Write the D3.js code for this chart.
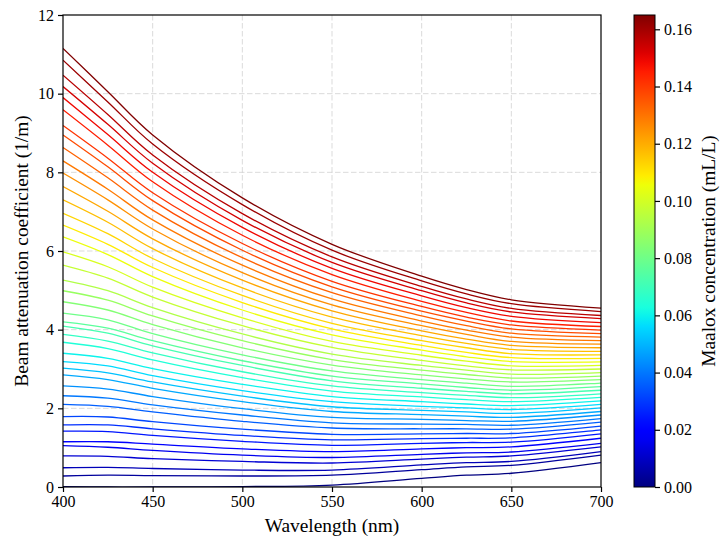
<!DOCTYPE html>
<html>
<head>
<meta charset="utf-8">
<script src="https://cdn.jsdelivr.net/npm/d3@7"></script>
<style>
  html, body { margin: 0; padding: 0; background: #fff; }
  svg { display: block; }
  text { font-family: "Liberation Serif", "Times New Roman", serif; fill: #000; }
</style>
</head>
<body>
<div id="chart"></div>
<script>
// ---------------- data ----------------
const wavelengths = [400, 425, 450, 500, 550, 600, 625, 650, 700];

// Maalox concentration (mL/L) of each spectrum, lowest first
const concentrations = [0.000, 0.004, 0.008, 0.012, 0.016, 0.020, 0.024, 0.028, 0.032, 0.036,
  0.040, 0.044, 0.048, 0.052, 0.056, 0.060, 0.064, 0.068, 0.072, 0.076, 0.080, 0.084, 0.088,
  0.093, 0.097, 0.101, 0.105, 0.109, 0.113, 0.117, 0.121, 0.125, 0.129, 0.133, 0.137, 0.141,
  0.145, 0.149, 0.153, 0.157, 0.161, 0.165];

// beam attenuation (1/m) at each wavelength, one row per concentration
const attenuation = [
  [0.01, 0.00, 0.00, 0.01, 0.05, 0.22, 0.30, 0.35, 0.62],
  [0.28, 0.30, 0.29, 0.28, 0.30, 0.44, 0.51, 0.55, 0.81],
  [0.49, 0.50, 0.47, 0.43, 0.43, 0.56, 0.62, 0.65, 0.90],
  [0.79, 0.78, 0.72, 0.65, 0.61, 0.71, 0.76, 0.79, 1.02],
  [1.05, 1.01, 0.93, 0.81, 0.75, 0.83, 0.87, 0.89, 1.11],
  [1.15, 1.15, 1.09, 0.97, 0.90, 0.97, 1.00, 1.02, 1.24],
  [1.42, 1.41, 1.31, 1.16, 1.06, 1.11, 1.13, 1.14, 1.35],
  [1.58, 1.58, 1.48, 1.31, 1.20, 1.23, 1.24, 1.25, 1.45],
  [1.79, 1.78, 1.66, 1.47, 1.34, 1.35, 1.36, 1.36, 1.55],
  [2.10, 2.05, 1.91, 1.67, 1.50, 1.48, 1.48, 1.47, 1.65],
  [2.32, 2.26, 2.09, 1.83, 1.63, 1.60, 1.59, 1.57, 1.74],
  [2.57, 2.49, 2.30, 1.99, 1.77, 1.72, 1.69, 1.67, 1.83],
  [2.85, 2.73, 2.51, 2.17, 1.92, 1.84, 1.80, 1.77, 1.92],
  [3.02, 2.90, 2.67, 2.31, 2.04, 1.95, 1.91, 1.87, 2.01],
  [3.19, 3.08, 2.83, 2.45, 2.17, 2.05, 2.01, 1.97, 2.10],
  [3.40, 3.27, 3.01, 2.61, 2.30, 2.17, 2.11, 2.07, 2.19],
  [3.68, 3.52, 3.23, 2.78, 2.44, 2.29, 2.22, 2.17, 2.28],
  [3.88, 3.71, 3.41, 2.93, 2.57, 2.40, 2.33, 2.27, 2.37],
  [4.09, 3.91, 3.59, 3.09, 2.70, 2.51, 2.43, 2.37, 2.46],
  [4.20, 4.04, 3.72, 3.21, 2.82, 2.62, 2.53, 2.46, 2.55],
  [4.42, 4.25, 3.90, 3.36, 2.95, 2.73, 2.64, 2.56, 2.64],
  [4.71, 4.50, 4.13, 3.54, 3.10, 2.85, 2.75, 2.67, 2.73],
  [4.99, 4.75, 4.35, 3.72, 3.24, 2.97, 2.86, 2.77, 2.82],
  [5.26, 4.99, 4.56, 3.89, 3.38, 3.09, 2.97, 2.87, 2.91],
  [5.64, 5.31, 4.83, 4.10, 3.55, 3.22, 3.08, 2.98, 3.00],
  [5.98, 5.60, 5.08, 4.30, 3.70, 3.35, 3.20, 3.08, 3.09],
  [6.36, 5.91, 5.35, 4.50, 3.87, 3.48, 3.31, 3.19, 3.18],
  [6.66, 6.17, 5.58, 4.69, 4.02, 3.60, 3.42, 3.29, 3.27],
  [6.96, 6.44, 5.81, 4.87, 4.16, 3.72, 3.54, 3.39, 3.36],
  [7.30, 6.73, 6.06, 5.06, 4.32, 3.85, 3.65, 3.50, 3.45],
  [7.64, 7.01, 6.31, 5.26, 4.48, 3.97, 3.76, 3.60, 3.54],
  [7.98, 7.30, 6.56, 5.45, 4.63, 4.10, 3.88, 3.70, 3.63],
  [8.29, 7.57, 6.79, 5.64, 4.78, 4.22, 3.99, 3.81, 3.72],
  [8.63, 7.86, 7.04, 5.83, 4.94, 4.35, 4.10, 3.91, 3.81],
  [8.95, 8.14, 7.28, 6.02, 5.09, 4.47, 4.22, 4.02, 3.90],
  [9.19, 8.36, 7.48, 6.19, 5.23, 4.59, 4.32, 4.12, 3.99],
  [9.59, 8.69, 7.76, 6.40, 5.40, 4.72, 4.44, 4.22, 4.08],
  [9.90, 8.96, 8.00, 6.60, 5.56, 4.86, 4.56, 4.34, 4.18],
  [10.18, 9.22, 8.23, 6.78, 5.71, 4.99, 4.68, 4.45, 4.28],
  [10.47, 9.47, 8.44, 6.95, 5.85, 5.10, 4.78, 4.54, 4.36],
  [10.85, 9.79, 8.72, 7.18, 6.02, 5.24, 4.91, 4.66, 4.46],
  [11.15, 10.05, 8.95, 7.35, 6.17, 5.36, 5.02, 4.76, 4.55]
];

const xTicks = [400, 450, 500, 550, 600, 650, 700];
const yTicks = [0, 2, 4, 6, 8, 10, 12];
const cbTicks = [0.00, 0.02, 0.04, 0.06, 0.08, 0.10, 0.12, 0.14, 0.16];
const cbMax = 0.165;

// ---------------- layout ----------------
const W = 720, H = 537;
const plot = { left: 63, right: 601, top: 15, bottom: 487 };
const cb = { left: 634, right: 655, top: 15, bottom: 487 };

// matplotlib "jet"
const jetR = [[0, 0], [0.35, 0], [0.66, 1], [0.89, 1], [1, 0.5]];
const jetG = [[0, 0], [0.125, 0], [0.375, 1], [0.64, 1], [0.91, 0], [1, 0]];
const jetB = [[0, 0.5], [0.11, 1], [0.34, 1], [0.65, 0], [1, 0]];
function seg(pts, t) {
  for (let i = 1; i < pts.length; i++) {
    if (t <= pts[i][0]) {
      const [x0, y0] = pts[i - 1], [x1, y1] = pts[i];
      return y0 + (y1 - y0) * (t - x0) / (x1 - x0);
    }
  }
  return pts[pts.length - 1][1];
}
function jet(t) {
  t = Math.max(0, Math.min(1, t));
  return d3.rgb(255 * seg(jetR, t), 255 * seg(jetG, t), 255 * seg(jetB, t)).formatHex();
}

const svg = d3.select("#chart").append("svg").attr("width", W).attr("height", H);

const x = d3.scaleLinear().domain([400, 700]).range([plot.left, plot.right]);
const y = d3.scaleLinear().domain([0, 12]).range([plot.bottom, plot.top]);
const color = d3.scaleLinear().domain([0, cbMax]).range([0, 1]);

// grid
const grid = svg.append("g").attr("class", "grid");
grid.selectAll("line.gx").data(xTicks.slice(1, -1)).join("line")
  .attr("x1", d => x(d)).attr("x2", d => x(d))
  .attr("y1", plot.top).attr("y2", plot.bottom)
  .attr("stroke", "#b0b0b0").attr("stroke-opacity", 0.5)
  .attr("stroke-width", 0.9).attr("stroke-dasharray", "5.5,2.5");
grid.selectAll("line.gy").data(yTicks.slice(1, -1)).join("line")
  .attr("y1", d => y(d)).attr("y2", d => y(d))
  .attr("x1", plot.left).attr("x2", plot.right)
  .attr("stroke", "#b0b0b0").attr("stroke-opacity", 0.5)
  .attr("stroke-width", 0.9).attr("stroke-dasharray", "5.5,2.5");

// lines
const line = d3.line()
  .x((d, i) => x(wavelengths[i]))
  .y(d => y(d))
  .curve(d3.curveCatmullRom.alpha(0.5));

svg.append("defs").append("clipPath").attr("id", "clip")
  .append("rect").attr("x", plot.left).attr("y", plot.top)
  .attr("width", plot.right - plot.left).attr("height", plot.bottom - plot.top);

svg.append("g").attr("clip-path", "url(#clip)")
  .selectAll("path").data(attenuation).join("path")
  .attr("d", d => line(d))
  .attr("fill", "none")
  .attr("stroke", (d, i) => jet(color(concentrations[i])))
  .attr("stroke-width", 1.3);

// axes
const xAxis = d3.axisBottom(x).tickValues(xTicks).tickSize(5).tickPadding(4).tickFormat(d3.format("d"));
const yAxis = d3.axisLeft(y).tickValues(yTicks).tickSize(5).tickPadding(4).tickFormat(d3.format("d"));

const gx = svg.append("g").attr("transform", `translate(0,${plot.bottom})`).call(xAxis);
const gy = svg.append("g").attr("transform", `translate(${plot.left},0)`).call(yAxis);
[gx, gy].forEach(g => {
  g.select(".domain").remove();
  g.selectAll(".tick line").attr("stroke", "#000").attr("stroke-width", 1.2);
  g.selectAll(".tick text").attr("font-size", 16)
    .attr("font-family", "'Liberation Serif', 'Times New Roman', serif").attr("fill", "#000");
});

// frame
svg.append("rect").attr("x", plot.left).attr("y", plot.top)
  .attr("width", plot.right - plot.left).attr("height", plot.bottom - plot.top)
  .attr("fill", "none").attr("stroke", "#000").attr("stroke-width", 1.2);

// axis labels
svg.append("text").attr("x", (plot.left + plot.right) / 2).attr("y", 532)
  .attr("text-anchor", "middle").attr("font-size", 19.4).text("Wavelength (nm)");
svg.append("text").attr("transform", `translate(28,${(plot.top + plot.bottom) / 2}) rotate(-90)`)
  .attr("text-anchor", "middle").attr("font-size", 19.4).text("Beam attenuation coefficient (1/m)");

// colorbar
const grad = svg.select("defs").append("linearGradient").attr("id", "jetgrad")
  .attr("x1", 0).attr("y1", 1).attr("x2", 0).attr("y2", 0);
d3.range(0, 1.0001, 0.02).forEach(t => {
  grad.append("stop").attr("offset", t).attr("stop-color", jet(t));
});
svg.append("rect").attr("x", cb.left).attr("y", cb.top)
  .attr("width", cb.right - cb.left).attr("height", cb.bottom - cb.top)
  .attr("fill", "url(#jetgrad)").attr("stroke", "#000").attr("stroke-width", 1);

const cy = d3.scaleLinear().domain([0, cbMax]).range([cb.bottom, cb.top]);
const cbAxis = d3.axisRight(cy).tickValues(cbTicks).tickSize(5).tickPadding(4).tickFormat(d3.format(".2f"));
const gcb = svg.append("g").attr("transform", `translate(${cb.right},0)`).call(cbAxis);
gcb.select(".domain").remove();
gcb.selectAll(".tick line").attr("stroke", "#000").attr("stroke-width", 1.2);
gcb.selectAll(".tick text").attr("font-size", 16)
  .attr("font-family", "'Liberation Serif', 'Times New Roman', serif").attr("fill", "#000");

svg.append("text").attr("transform", `translate(715,${(cb.top + cb.bottom) / 2}) rotate(-90)`)
  .attr("text-anchor", "middle").attr("font-size", 19.4).text("Maalox concentration (mL/L)");
</script>
</body>
</html>
